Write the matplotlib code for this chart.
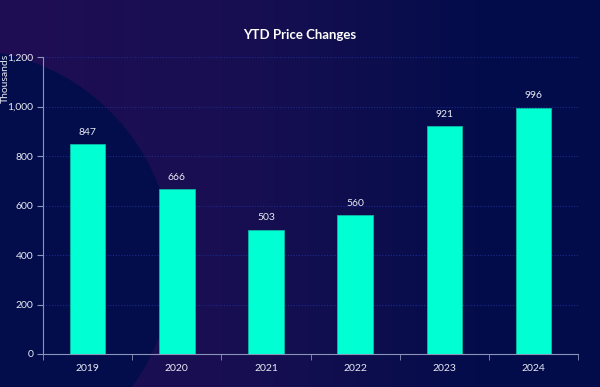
import matplotlib.pyplot as plt
import numpy as np
from matplotlib.patches import Circle
from matplotlib.colors import LinearSegmentedColormap

plt.rcParams['font.family'] = ['Lato', 'DejaVu Sans']

# data (thousands)
years = ['2019', '2020', '2021', '2022', '2023', '2024']
values = [847, 666, 503, 560, 921, 996]

navy = '#020c4a'
bar_color = '#00ffd2'
text_color = '#e8eaf4'

fig = plt.figure(figsize=(6, 3.87), dpi=100, facecolor=navy)

# background: faint purple glow on the left with a big navy circle over it
bg = fig.add_axes([0, 0, 1, 1], zorder=0)
bg.set_xlim(0, 600)
bg.set_ylim(387, 0)
bg.axis('off')
cmap = LinearSegmentedColormap.from_list('bg', ['#200d54', '#170f51', navy])
grad = np.linspace(0, 1, 256).reshape(1, -1)
bg.imshow(grad, cmap=cmap, extent=[0, 500, 387, 0], aspect='auto')
bg.add_patch(plt.Rectangle((500, 0), 100, 387, color=navy))
bg.add_patch(Circle((-40, 262), 212, color='#030d4b', zorder=2))

ax = fig.add_axes([0.0717, 0.0853, 0.892, 0.767], zorder=1)
ax.patch.set_alpha(0)

x = np.arange(len(years))
ax.bar(x, values, width=0.4, color=bar_color, edgecolor='#0eb8a4', linewidth=0.6, zorder=3)
for xi, v in zip(x, values):
    ax.text(xi, v + 30, f'{v}', ha='center', va='bottom', color=text_color, fontsize=7.5)

ax.set_xlim(-0.5, 5.5)
ax.set_ylim(0, 1200)
ax.set_yticks(range(0, 1201, 200))
ax.set_yticklabels([f'{t:,}' for t in range(0, 1201, 200)])
ax.set_xticks(x)
ax.set_xticklabels(years)
ax.set_xticks(np.arange(-0.5, 6, 1), minor=True)
ax.tick_params(axis='x', which='major', length=0, pad=7, colors=text_color, labelsize=7.5)
ax.tick_params(axis='x', which='minor', length=4, color='#8a93b8', direction='out')
ax.tick_params(axis='y', length=4, color='#8a93b8', colors=text_color, labelsize=7.5, pad=3)

ax.grid(axis='y', color='#1a2a8c', linestyle=(0, (1, 1.5)), linewidth=0.8, zorder=0)
for s in ['top', 'right']:
    ax.spines[s].set_visible(False)
for s in ['left', 'bottom']:
    ax.spines[s].set_color('#8a93b8')
    ax.spines[s].set_linewidth(0.8)

fig.text(0.5, 0.91, 'YTD Price Changes', ha='center', va='center', color='white',
         fontsize=9.5, fontweight='bold')
fig.text(0.009, 0.86, 'Thousands', rotation=90, ha='center', va='top', color=text_color,
         fontsize=7.5)

fig.savefig('out.png', dpi=100, facecolor=navy)
